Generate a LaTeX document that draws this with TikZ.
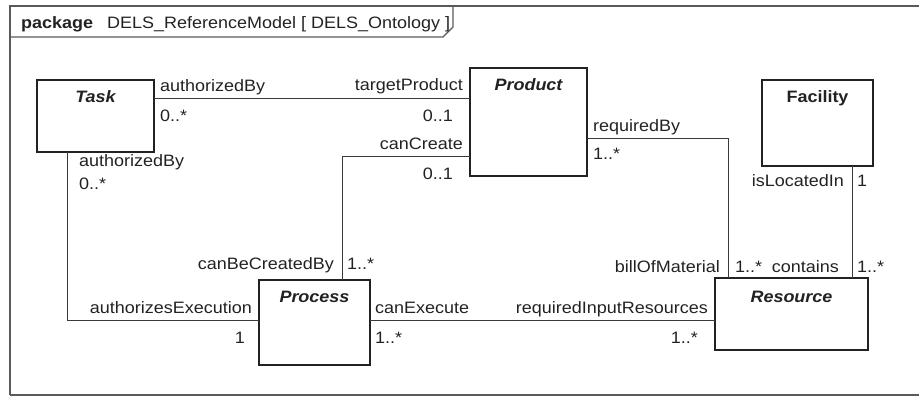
\documentclass[tikz,border=0pt]{standalone}
\usepackage{fontspec}
\setmainfont{Liberation Sans}[FakeStretch=1.09]
\usetikzlibrary{calc}

\definecolor{ink}{HTML}{222222}
\definecolor{wire}{HTML}{3A3A3A}
\definecolor{framegray}{HTML}{5A5A5A}

\tikzset{
  classbox/.style={draw=ink, line width=1.3pt, fill=white, inner sep=0pt, outer sep=0pt},
  classname/.style={anchor=base, inner sep=0pt, text=ink, font=\fontsize{16.5}{18}\selectfont\bfseries},
  assoc/.style={draw=wire, line width=1pt},
  rolew/.style={anchor=base west, inner sep=0pt, text=ink},
  rolee/.style={anchor=base east, inner sep=0pt, text=ink},
  pkgframe/.style={draw=framegray, line width=1.1pt},
}

\begin{document}
\begin{tikzpicture}[x=1pt, y=-1pt, font=\fontsize{16.5}{18}\selectfont]
\useasboundingbox (0,0) rectangle (919,398);

% package frame with its name tab
\draw[pkgframe] (10,395) -- (10,6) -- (919,6);
\draw[pkgframe] (10,395) -- (919,395);
\draw[pkgframe] (10,37) -- (443,37) -- (453,27) -- (453,6);
\node[rolew] (pkgkw) at (21,29) {\bfseries package};
\node[rolew] (pkgname) at (107,29) {DELS\_ReferenceModel [ DELS\_Ontology ]};

% classes
\node[classbox, minimum width=117pt, minimum height=72pt]  (task)     at (95.5,116)  {};
\node[classbox, minimum width=117pt, minimum height=108pt] (product)  at (528.5,122) {};
\node[classbox, minimum width=111pt, minimum height=86pt]  (facility) at (817.5,123) {};
\node[classbox, minimum width=111pt, minimum height=85pt]  (process)  at (314.5,322.5) {};
\node[classbox, minimum width=153pt, minimum height=72pt]  (resource) at (791.5,314) {};

\node[classname] (taskname)     at ($(task.north)+(0,23)$)     {\itshape Task};
\node[classname] (productname)  at ($(product.north)+(0,23)$)  {\itshape Product};
\node[classname] (facilityname) at ($(facility.north)+(0,23)$) {Facility};
\node[classname] (processname)  at ($(process.north)+(0,22)$)  {\itshape Process};
\node[classname] (resourcename) at ($(resource.north)+(0,24)$) {\itshape Resource};

% associations
\coordinate (tp) at ($(task.north east)+(0,19)$);
\draw[assoc] (tp) -- (tp -| product.west);

\coordinate (cc) at ($(product.south west)+(0,-19)$);
\coordinate (pc) at ($(process.north west)+(83,0)$);
\draw[assoc] (cc) -| (pc);

\coordinate (rb) at ($(product.north east)+(0,71)$);
\coordinate (bm) at ($(resource.north west)+(13,0)$);
\draw[assoc] (rb) -| (bm);

\coordinate (ta) at ($(task.south west)+(30,0)$);
\coordinate (ae) at ($(process.north west)+(0,41)$);
\draw[assoc] (ta) |- (ae);

\coordinate (ce) at ($(process.north east)+(0,41)$);
\draw[assoc] (ce) -- (ce -| resource.west);

\coordinate (fl) at ($(facility.south west)+(90,0)$);
\draw[assoc] (fl) -- (fl |- resource.north);

% association end names and multiplicities
\node[rolew] (r1)  at (160,92)  {authorizedBy};
\node[rolew] (m1)  at (160,122) {0..*};
\node[rolee] (r2)  at (463,91)  {targetProduct};
\node[rolee] (m2)  at (453,122) {0..1};

\node[rolee] (r3)  at (463,150) {canCreate};
\node[rolee] (m3)  at (453,180) {0..1};
\node[rolee] (r4)  at (334,270) {canBeCreatedBy};
\node[rolew] (m4)  at (347,270) {1..*};

\node[rolew] (r5)  at (593,132) {requiredBy};
\node[rolew] (m5)  at (593,160) {1..*};
\node[rolee] (r6)  at (720,273) {billOfMaterial};
\node[rolew] (m6)  at (735,273) {1..*};

\node[rolew] (r7)  at (79,167)  {authorizedBy};
\node[rolew] (m7)  at (79,190)  {0..*};
\node[rolee] (r8)  at (252,313) {authorizesExecution};
\node[rolee] (m8)  at (245,343) {1};

\node[rolew] (r9)  at (375,313) {canExecute};
\node[rolew] (m9)  at (375,343) {1..*};
\node[rolee] (r10) at (708,313) {requiredInputResources};
\node[rolee] (m10) at (698,343) {1..*};

\node[rolee] (r11) at (844,187) {isLocatedIn};
\node[rolew] (m11) at (857,187) {1};
\node[rolee] (r12) at (839,273) {contains};
\node[rolew] (m12) at (857,273) {1..*};
\end{tikzpicture}
\end{document}
